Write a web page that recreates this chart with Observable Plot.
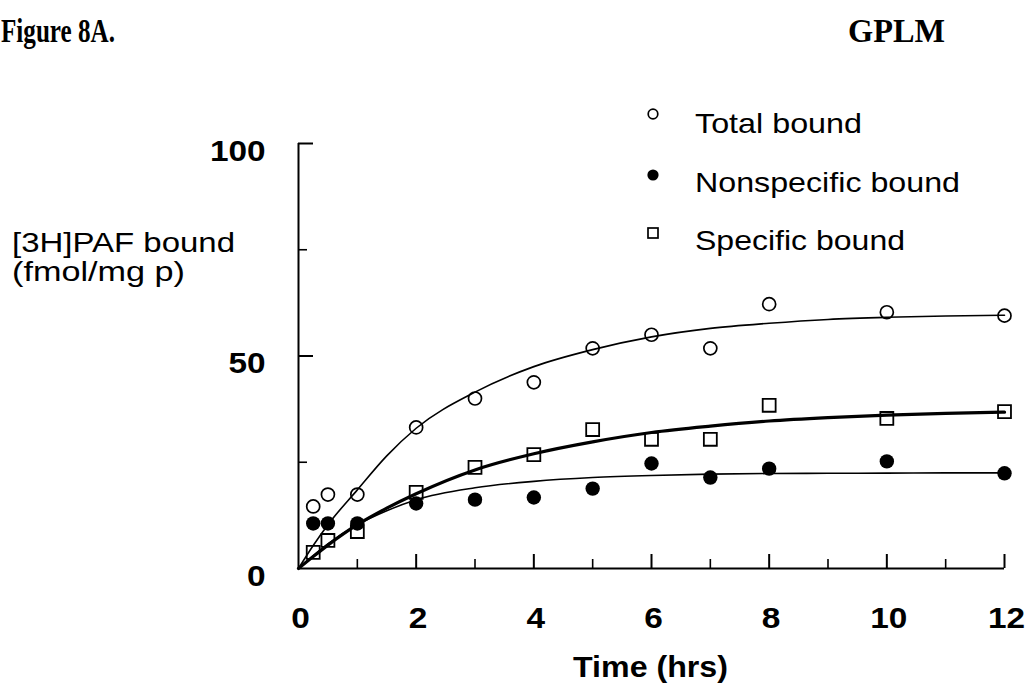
<!DOCTYPE html>
<html><head><meta charset="utf-8">
<script src="https://cdn.jsdelivr.net/npm/d3@7"></script>
<script src="https://cdn.jsdelivr.net/npm/@observablehq/plot@0.6"></script>
<style>
html,body{margin:0;padding:0;background:#fff;}
#wrap{position:relative;width:1029px;height:693px;overflow:hidden;background:#fff;}
#wrap > svg{position:absolute;left:0;top:0;}
</style></head><body><div id="wrap"></div>
<script>
// Measured points (time in hours, [3H]PAF bound in fmol/mg p)
const time        = [0.25, 0.5, 1, 2, 3, 4, 5, 6, 7, 8, 10, 12];
const totalBound  = [14.6, 17.4, 17.4, 33.2, 40.0, 43.8, 51.8, 55.0, 51.8, 62.2, 60.3, 59.5];
const nonspecific = [10.6, 10.6, 10.6, 15.3, 16.2, 16.7, 18.8, 24.7, 21.4, 23.5, 25.2, 22.4];
const specific    = [3.8, 6.6, 8.7, 17.9, 23.8, 26.8, 32.7, 30.4, 30.4, 38.4, 35.3, 36.9];

// Fitted curves
const fitTime        = [0, 0.25, 0.5, 1, 1.5, 2, 3, 4, 5, 6, 7, 8, 9, 10, 11, 12];
const fitTotal       = [0, 5.4, 10.3, 18.5, 26.5, 33.0, 41.5, 47.5, 51.5, 54.5, 56.5, 57.7, 58.6, 59.1, 59.4, 59.6];
const fitNonspecific = [0, 3.0, 5.8, 10.3, 13.6, 16.2, 19.0, 20.5, 21.4, 21.9, 22.2, 22.35, 22.4, 22.45, 22.5, 22.5];
const fitSpecific    = [0, 2.8, 5.5, 10.3, 14.2, 17.6, 23.2, 27.0, 29.8, 32.0, 33.5, 34.7, 35.5, 36.1, 36.5, 36.8];

// Axis ticks
const xTickLabels = [0, 2, 4, 6, 8, 10, 12];
const xMajorTicks = [2, 4, 6, 8, 10, 12];
const xMinorTicks = [1, 3, 5, 7, 9, 11];
const yTickLabels = [0, 50, 100];
const yMajorTicks = [50, 100];
const yMinorTicks = [25, 75];

// Texts
const titleText = "Figure 8A.";
const panelText = "GPLM";
const yLabelLines = ["[3H]PAF bound", "(fmol/mg p)"];
const xLabelText = "Time (hrs)";
const legendLabels = ["Total bound", "Nonspecific bound", "Specific bound"];

const pts = time.map((t, i) => ({t, total: totalBound[i], non: nonspecific[i], spec: specific[i]}));
const fit = fitTime.map((t, i) => ({t, total: fitTotal[i], non: fitNonspecific[i], spec: fitSpecific[i]}));

const W = 1029, H = 693, mL = 298, mR = 25, mT = 143, mB = 125;
const frameH = H - mT - mB, frameW = W - mL - mR;
const fontSans = "'Liberation Sans', Arial, Helvetica, sans-serif";

const chart = Plot.plot({
  width: W, height: H,
  marginLeft: mL, marginRight: mR, marginTop: mT, marginBottom: mB,
  style: {background: "white", fontFamily: fontSans, color: "black"},
  x: {domain: [0, 12]},
  y: {domain: [0, 100]},
  marks: [
    Plot.line(fit, {x: "t", y: "total", curve: "monotone-x", stroke: "black", strokeWidth: 1.6}),
    Plot.line(fit, {x: "t", y: "non", curve: "monotone-x", stroke: "black", strokeWidth: 1.6}),
    Plot.line(fit, {x: "t", y: "spec", curve: "monotone-x", stroke: "black", strokeWidth: 3.2}),
    Plot.ruleX([0], {y1: 0, y2: 100, stroke: "black", strokeWidth: 2}),
    Plot.ruleY([0], {x1: 0, x2: 12, stroke: "black", strokeWidth: 2}),
    Plot.tickX(xMajorTicks, {x: d => d, insetTop: frameH - 14, stroke: "black", strokeWidth: 2}),
    Plot.tickX(xMinorTicks, {x: d => d, insetTop: frameH - 9, stroke: "black", strokeWidth: 1.6}),
    Plot.tickY(yMajorTicks, {y: d => d, insetRight: frameW - 15, stroke: "black", strokeWidth: 2}),
    Plot.tickY(yMinorTicks, {y: d => d, insetRight: frameW - 9, stroke: "black", strokeWidth: 1.6}),
    Plot.axisX({ticks: xTickLabels, tickSize: 0, tickPadding: 39, dx: 2, fontSize: 29, fontWeight: "bold", label: null}),
    Plot.axisY({ticks: yTickLabels, tickSize: 0, tickPadding: 33, dy: 8, fontSize: 29, fontWeight: "bold", label: null}),
    Plot.dot(pts, {x: "t", y: "total", r: 6.5, fill: "none", stroke: "black", strokeWidth: 1.7}),
    Plot.dot(pts, {x: "t", y: "spec", symbol: "square", r: 7.3, fill: "none", stroke: "black", strokeWidth: 1.8}),
    Plot.dot(pts, {x: "t", y: "non", r: 7.2, fill: "black", stroke: "none"})
  ]
});

const wrap = document.getElementById("wrap");
wrap.append(chart);

// Slight horizontal stretch of tick labels, as in the scanned original
chart.querySelectorAll('g[aria-label="x-axis tick label"] text, g[aria-label="y-axis tick label"] text').forEach(el => {
  const w = el.getComputedTextLength();
  el.setAttribute("textLength", (w * 1.15).toFixed(1));
  el.setAttribute("lengthAdjust", "spacingAndGlyphs");
});

// Overlay: title, panel name, axis titles, legend
const ov = d3.select(wrap).append("svg").attr("width", W).attr("height", H)
  .style("pointer-events", "none");

function addText(txt, x, y, opts) {
  const t = ov.append("text").attr("x", x).attr("y", y).text(txt)
    .attr("font-family", opts.family || fontSans)
    .attr("font-size", opts.size)
    .attr("font-weight", opts.weight || "normal")
    .attr("fill", "black");
  if (opts.anchor) t.attr("text-anchor", opts.anchor);
  if (opts.len) t.attr("textLength", opts.len).attr("lengthAdjust", "spacingAndGlyphs");
  return t;
}
const serif = "'Liberation Serif', 'Times New Roman', serif";
addText(titleText, 1, 42, {family: serif, size: 33, weight: "bold", len: 114});
addText(panelText, 848, 42, {family: serif, size: 33, weight: "bold", len: 97});
addText(yLabelLines[0], 12, 252, {size: 28, len: 223});
addText(yLabelLines[1], 12, 281, {size: 28, len: 173});
addText(xLabelText, 573, 677, {size: 29, weight: "bold", len: 155});

const legX = 653, legTextX = 695;
const legSymY = [114, 175, 233], legBase = [133, 192, 250], legLen = [167, 265, 210];
legendLabels.forEach((lab, i) => {
  if (i === 0) ov.append("circle").attr("cx", legX).attr("cy", legSymY[i]).attr("r", 4.8)
      .attr("fill", "none").attr("stroke", "black").attr("stroke-width", 1.7);
  if (i === 1) ov.append("circle").attr("cx", legX).attr("cy", legSymY[i]).attr("r", 5.6)
      .attr("fill", "black");
  if (i === 2) ov.append("rect").attr("x", legX - 5).attr("y", legSymY[i] - 5)
      .attr("width", 10).attr("height", 10)
      .attr("fill", "none").attr("stroke", "black").attr("stroke-width", 1.7);
  addText(lab, legTextX, legBase[i], {size: 28, len: legLen[i]});
});
</script>
</body></html>
